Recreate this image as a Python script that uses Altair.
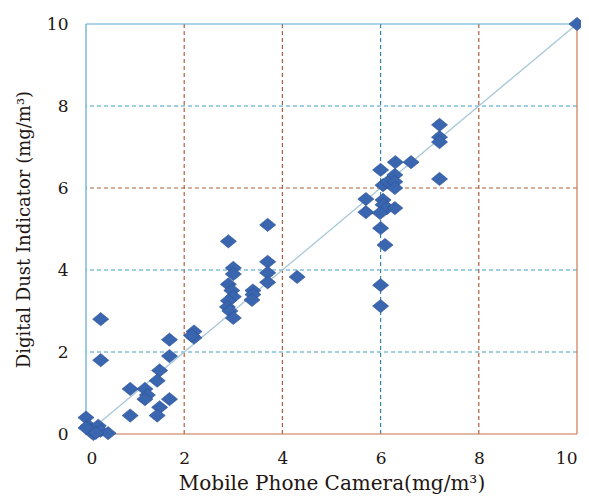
import altair as alt
import pandas as pd

x_vals = [0.0, 0.05, 0.1, 0.15, 0.25, 0.3, 0.45, 0.2, 0.0,
          0.3, 0.3,
          0.9, 0.9, 1.2, 1.25, 1.2, 1.5, 1.45, 1.7, 1.5, 1.45, 1.7, 1.7, 2.2, 2.2, 2.15,
          2.9, 3.0, 3.0, 2.9, 2.97, 3.0, 2.9, 2.88, 2.93, 3.0,
          3.4, 3.4, 3.38,
          3.7, 3.7, 3.7, 3.7, 4.3,
          5.7, 5.7, 6.0, 6.05, 6.15, 6.29, 6.29, 6.29, 6.05, 6.05, 6.13, 6.29, 5.99,
          6.0, 6.09, 6.0, 6.0, 6.3, 6.62, 7.2, 7.2, 7.2, 7.2, 10.0]
y_vals = [0.4, 0.2, 0.1, 0.0, 0.2, 0.08, 0.02, 0.03, 0.15,
          2.8, 1.8,
          1.1, 0.45, 1.1, 0.95, 0.85, 1.55, 1.3, 0.85, 0.65, 0.45, 2.3, 1.9, 2.5, 2.35, 2.4,
          4.7, 4.05, 3.9, 3.65, 3.5, 3.35, 3.25, 3.1, 3.0, 2.83,
          3.5, 3.4, 3.27,
          5.1, 4.2, 3.93, 3.7, 3.83,
          5.73, 5.41, 6.44, 6.07, 6.15, 6.32, 6.15, 6.0, 5.71, 5.59, 5.51, 5.51, 5.39,
          5.02, 4.61, 3.63, 3.12, 6.63, 6.63, 7.54, 7.24, 7.12, 6.22, 10.0]

tick_vals = [0, 2, 4, 6, 8, 10]
vgrid_brown = [2, 4, 8]
vgrid_blue = [6]
hgrid_blue = [2, 4, 8]
hgrid_brown = [6]
line_x = [0, 10]
line_y = [0, 10]

pts = pd.DataFrame({"x": x_vals, "y": y_vals})
diag = pd.DataFrame({"x": line_x, "y": line_y})

FONT = "DejaVu Serif"
TXT = "#221512"
xs = alt.Scale(domain=[0, 10], nice=False, zero=False)
ys = alt.Scale(domain=[0, 10], nice=False, zero=False)

xa = alt.Axis(values=tick_vals, title="Mobile Phone Camera(mg/m³)", grid=False,
              ticks=False, domain=False, labelPadding=16, titlePadding=7,
              labelFontSize=17, titleFontSize=20, labelFont=FONT, titleFont=FONT,
              labelColor=TXT, titleColor=TXT, titleFontWeight="normal")
ya = alt.Axis(values=tick_vals, title="Digital Dust Indicator (mg/m³)", grid=False,
              ticks=False, domain=False, labelPadding=18, titlePadding=13,
              labelFontSize=17, titleFontSize=18, labelFont=FONT, titleFont=FONT,
              labelColor=TXT, titleColor=TXT, titleFontWeight="normal")

BROWN = "#b0603c"
BLUE = "#3f9cc9"

def vrule(vals, color, dash=True):
    d = pd.DataFrame({"v": vals})
    m = alt.Chart(d).mark_rule(color=color, strokeWidth=1.2,
                               strokeDash=[4, 3] if dash else [1, 0])
    return m.encode(x=alt.X("v:Q", scale=xs, axis=xa))

def hrule(vals, color, dash=True):
    d = pd.DataFrame({"v": vals})
    m = alt.Chart(d).mark_rule(color=color, strokeWidth=1.2,
                               strokeDash=[4, 3] if dash else [1, 0])
    return m.encode(y=alt.Y("v:Q", scale=ys, axis=ya))

grid = (vrule(vgrid_brown, BROWN) + vrule(vgrid_blue, "#3a86ad")
        + hrule(hgrid_blue, BLUE) + hrule(hgrid_brown, BROWN))
borders = (vrule([0], "#5aa8d0", False) + hrule([10], "#5aa8d0", False)
           + vrule([10], "#d07a58", False) + hrule([0], "#c8704c", False))

diag_line = alt.Chart(diag).mark_line(color="#a8c8da", strokeWidth=1.3).encode(
    x=alt.X("x:Q", scale=xs, axis=xa), y=alt.Y("y:Q", scale=ys, axis=ya))

points = alt.Chart(pts).mark_point(
    shape="M-1,0L0,-0.82L1,0L0,0.82Z", size=260, filled=True,
    fill="#3a66b0", stroke="#2b4f90", strokeWidth=0.6, opacity=1
).encode(
    x=alt.X("x:Q", scale=xs, axis=xa),
    y=alt.Y("y:Q", scale=ys, axis=ya),
)

chart = alt.layer(grid, borders, diag_line, points).properties(
    width=491, height=410,
    autosize=alt.AutoSizeParams(type="none"),
    padding={"left": 78, "top": 16, "right": 4, "bottom": 62},
    background="white",
).configure_view(stroke=None)

chart.save("out.html", embed_options={"renderer": "svg", "actions": False})
